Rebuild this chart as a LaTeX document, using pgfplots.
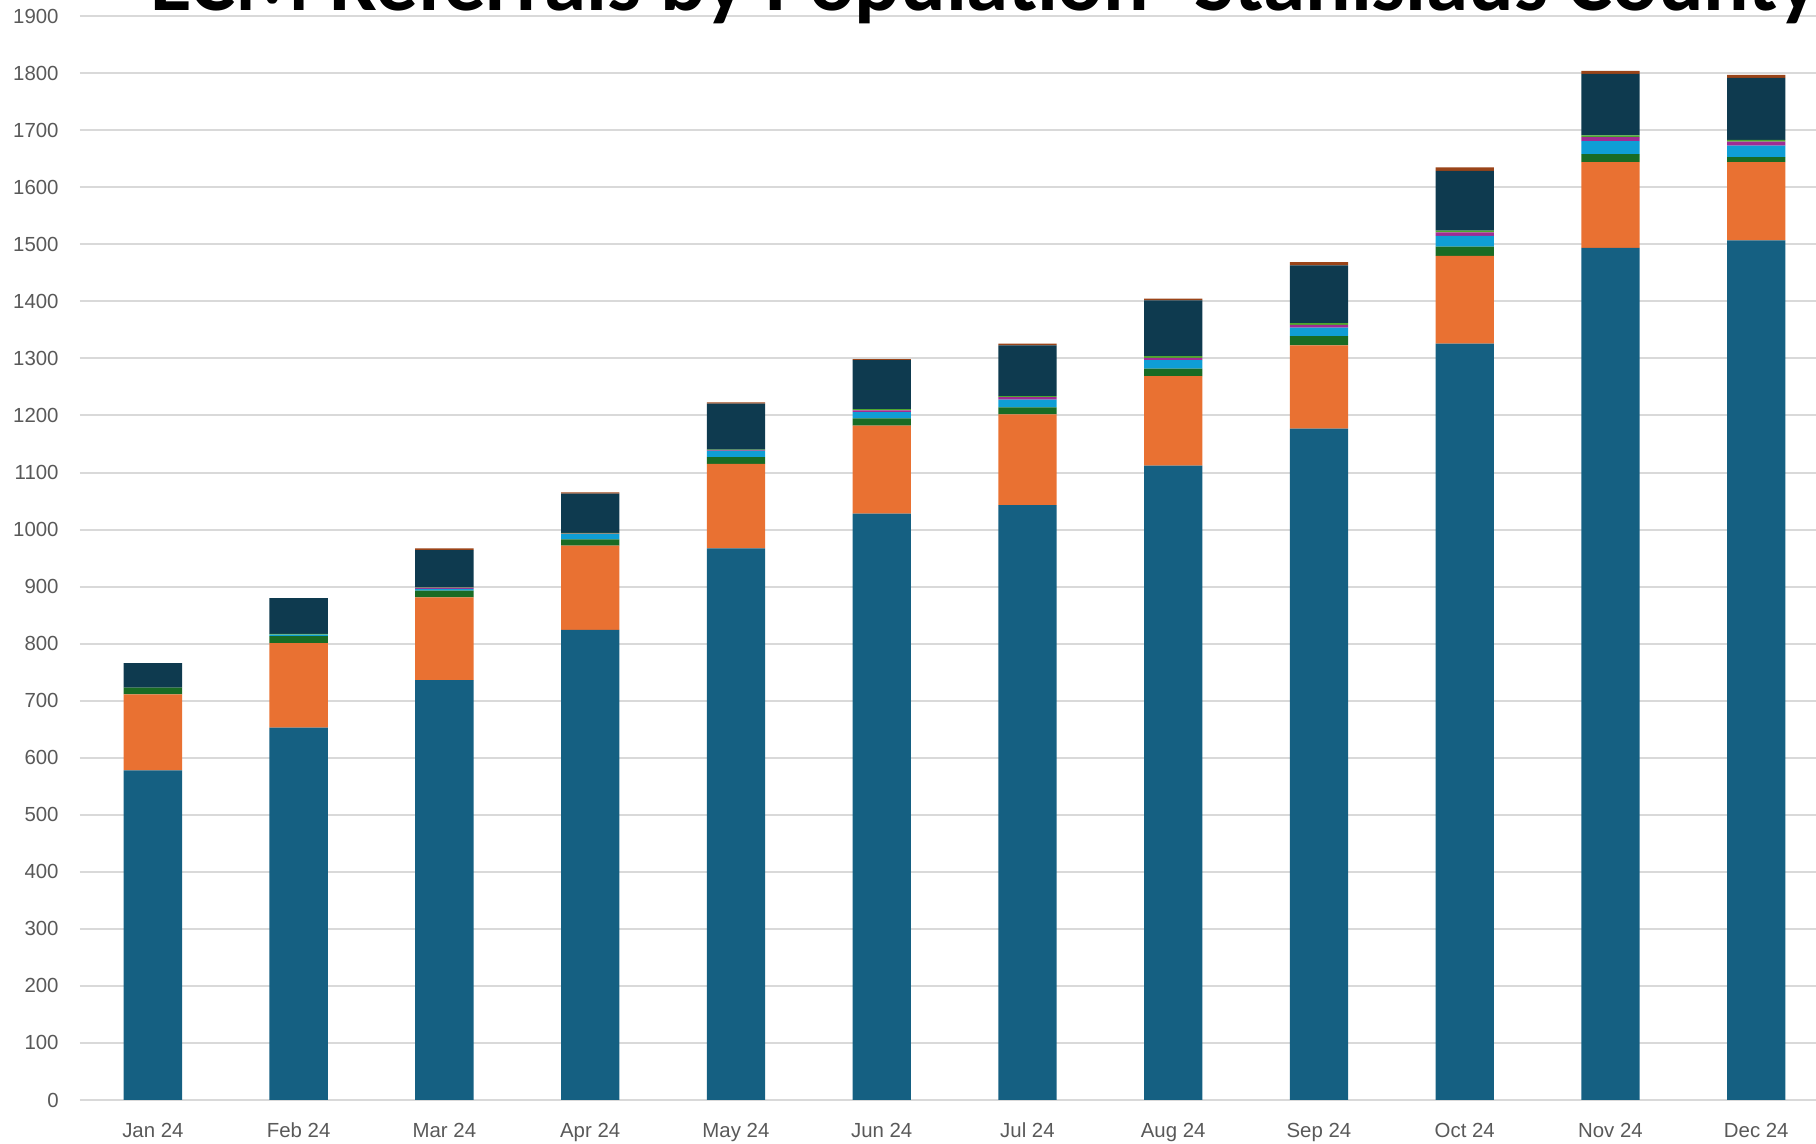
\documentclass[border=0pt]{standalone}
\usepackage{fontspec}
\setmainfont{Liberation Sans}
\newfontfamily\titlefont{Carlito}
\usepackage{pgfplots}
\pgfplotsset{compat=1.18}
\usepackage{pgfplotstable}

\definecolor{sA}{HTML}{156082}
\definecolor{sB}{HTML}{E97132}
\definecolor{sC}{HTML}{196B24}
\definecolor{sD}{HTML}{0F9ED5}
\definecolor{sE}{HTML}{A02B93}
\definecolor{sF}{HTML}{4EA72E}
\definecolor{sG}{HTML}{0E3A4F}
\definecolor{sH}{HTML}{9A4419}
\definecolor{gridc}{HTML}{D9D9D9}
\definecolor{labc}{HTML}{595959}

\pgfplotstableread{
x a b c d e f g h
0 578 133 12 0 0 0 43 0
1 653 148 12 3 0 1 63 0
2 736 145 12 3 2 1 65 3
3 824 148 11 9 1 1 69 2
4 967 148 12 11 1 1 81 2
5 1028 154 13 11 3 2 86 2
6 1043 159 12 14 4 2 89 3
7 1112 157 13 15 4 3 98 3
8 1177 146 16 15 5 3 101 6
9 1326 154 16 19 6 3 105 6
10 1494 150 14 23 7 3 108 5
11 1507 137 9 20 7 3 109 5
}\data

\begin{document}
\begin{tikzpicture}
\useasboundingbox (0,0) rectangle (908pt,572pt);
\begin{axis}[
  at={(40pt,22pt)}, anchor=south west,
  scale only axis, width=868pt, height=541.9pt,
  ybar stacked, bar width=0.4,
  xmin=-0.5, xmax=11.41, ymin=0, ymax=1900,
  ytick distance=100,
  xtick={0,...,11},
  xticklabels={Jan 24,Feb 24,Mar 24,Apr 24,May 24,Jun 24,Jul 24,Aug 24,Sep 24,Oct 24,Nov 24,Dec 24},
  ymajorgrids, grid style={color=gridc, line width=1pt},
  axis line style={draw=none},
  tick style={draw=none}, major tick length=0pt,
  /pgf/number format/assume math mode=true,
  /pgf/number format/1000 sep={},
  ticklabel style={font=\fontsize{10.2}{12}\selectfont, text=labc},
  yticklabel style={inner sep=0pt, anchor=east},
  yticklabel shift=10.5pt,
  xticklabel style={inner sep=0pt, anchor=base},
  xticklabel shift=18.6pt,
]
\addplot[fill=sA, draw=none] table[x=x, y=a] {\data};
\addplot[fill=sB, draw=none] table[x=x, y=b] {\data};
\addplot[fill=sC, draw=none] table[x=x, y=c] {\data};
\addplot[fill=sD, draw=none] table[x=x, y=d] {\data};
\addplot[fill=sE, draw=none] table[x=x, y=e] {\data};
\addplot[fill=sF, draw=none] table[x=x, y=f] {\data};
\addplot[fill=sG, draw=none] table[x=x, y=g] {\data};
\addplot[fill=sH, draw=none] table[x=x, y=h] {\data};
\end{axis}
\node[anchor=base west, inner sep=0pt, font=\titlefont\bfseries\fontsize{42.5}{50}\selectfont] at (75pt,566.5pt) {ECM Referrals by Population- Stanislaus County};
\end{tikzpicture}
\end{document}
